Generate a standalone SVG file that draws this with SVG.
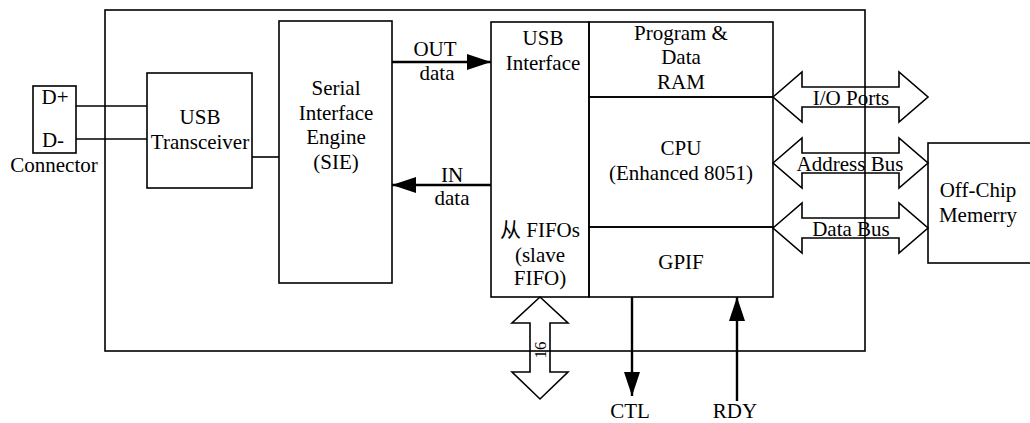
<svg xmlns="http://www.w3.org/2000/svg" width="1030" height="423" viewBox="0 0 1030 423">
<style>
.box{fill:none;stroke:#000;stroke-width:1.6}
.ln{fill:none;stroke:#000;stroke-width:1.6}
.sig{fill:none;stroke:#000;stroke-width:2.4}
.bus{fill:none;stroke:#000;stroke-width:1.6;stroke-linejoin:miter}
.t{font-family:'Liberation Serif','Times New Roman','DejaVu Serif','Noto Sans CJK SC',serif;font-size:21px;fill:#000;text-anchor:middle}
</style>
<defs>
<marker id="ah" viewBox="0 0 24 16" refX="24" refY="8" markerWidth="24" markerHeight="16" markerUnits="userSpaceOnUse" orient="auto">
<path d="M0,0 L24,8 L0,16 z" fill="#000"/>
</marker>
</defs>
<rect width="1030" height="423" fill="#fff"/>

<g id="chip">
<rect class="box" x="105" y="10" width="760" height="341"/>
</g>

<g id="connector" class="t">
<rect class="box" x="33" y="86" width="43" height="67"/>
<text x="55" y="104">D+</text>
<text x="53" y="147">D-</text>
<text x="54" y="172">Connector</text>
</g>

<g id="transceiver" class="t">
<rect class="box" x="147" y="73" width="105" height="115"/>
<text x="200" y="124">USB</text>
<text x="200" y="149">Transceiver</text>
</g>

<g id="sie" class="t">
<rect class="box" x="279" y="21" width="113" height="262"/>
<text x="336" y="95">Serial</text>
<text x="336" y="120">Interface</text>
<text x="336" y="144">Engine</text>
<text x="336" y="169">(SIE)</text>
</g>

<g id="usb-interface" class="t">
<rect class="box" x="491" y="22" width="98" height="275"/>
<text x="543" y="45">USB</text>
<text x="543" y="70">Interface</text>
<text x="540" y="237">从 FIFOs</text>
<text x="540" y="262">(slave</text>
<text x="540" y="285">FIFO)</text>
</g>

<g id="ram" class="t">
<rect class="box" x="589" y="22" width="184" height="75"/>
<text x="681" y="40">Program &amp;</text>
<text x="681" y="64">Data</text>
<text x="681" y="89">RAM</text>
</g>

<g id="cpu" class="t">
<rect class="box" x="589" y="97" width="184" height="130"/>
<text x="681" y="155">CPU</text>
<text x="681" y="180">(Enhanced 8051)</text>
</g>

<g id="gpif" class="t">
<rect class="box" x="589" y="227" width="184" height="70"/>
<text x="681" y="269">GPIF</text>
</g>

<g id="offchip" class="t">
<rect class="box" x="928" y="143" width="110" height="120"/>
<text x="978" y="197">Off-Chip</text>
<text x="978" y="222">Memerry</text>
</g>

<g id="connectors">
<line class="ln" x1="76" y1="106" x2="147" y2="106"/>
<line class="ln" x1="76" y1="139" x2="147" y2="139"/>
<line class="ln" x1="252" y1="157" x2="279" y2="157"/>
<line class="sig" x1="392" y1="62" x2="491" y2="62" marker-end="url(#ah)"/>
<line class="sig" x1="491" y1="185" x2="392" y2="185" marker-end="url(#ah)"/>
<line class="sig" x1="632" y1="297" x2="632" y2="396" marker-end="url(#ah)"/>
<line class="sig" x1="737" y1="401" x2="737" y2="297" marker-end="url(#ah)"/>
<polygon class="bus" points="773,97 802,72 802,87 899,87 899,72 928,97 899,122 899,107 802,107 802,122"/>
<polygon class="bus" points="773,163 802,138 802,153 899,153 899,138 928,163 899,188 899,173 802,173 802,188"/>
<polygon class="bus" points="773,228 802,203 802,218 899,218 899,203 928,228 899,253 899,238 802,238 802,253"/>
<polygon class="bus" points="540,297 568,323 550,323 550,372 568,372 540,399 512,372 530,372 530,323 512,323"/>
</g>

<g id="labels" class="t">
<text x="435" y="56">OUT</text>
<text x="437" y="80">data</text>
<text x="452" y="182">IN</text>
<text x="452" y="205">data</text>
<text x="851" y="105">I/O Ports</text>
<text x="850" y="171">Address Bus</text>
<text x="851" y="236">Data Bus</text>
<text x="630" y="418">CTL</text>
<text x="735" y="418">RDY</text>
<text transform="translate(540,350) rotate(-90)" y="6" style="font-size:17px">16</text>
</g>
</svg>
